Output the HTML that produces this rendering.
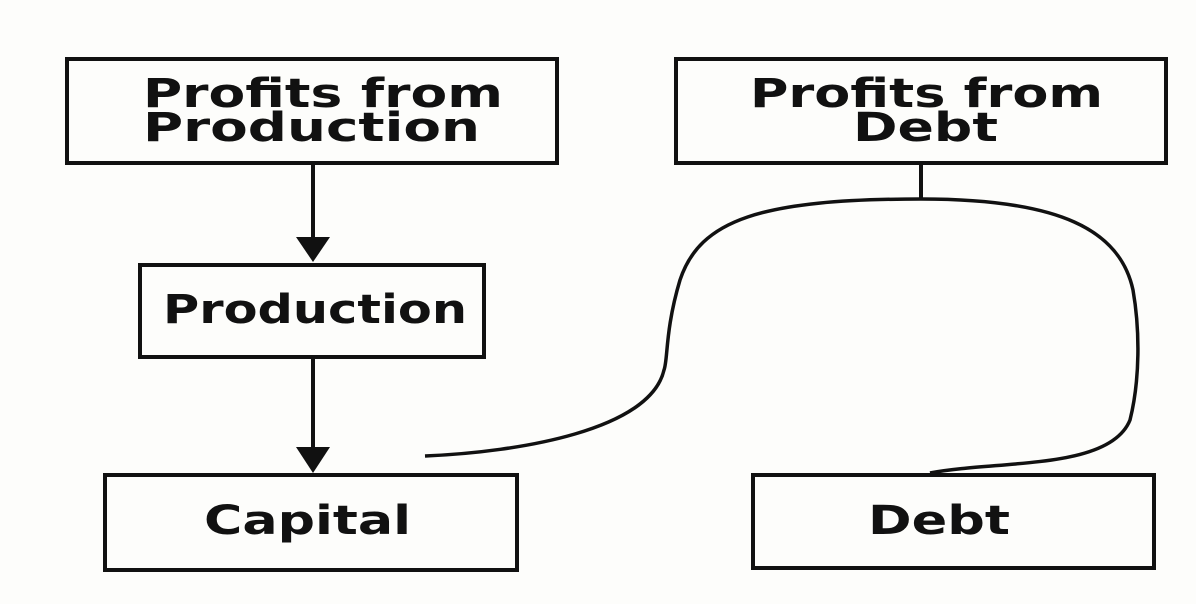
<!DOCTYPE html>
<html><head><style>
body{margin:0;background:#fdfdfb;}
svg{display:block}
text{font-family:"DejaVu Sans","Liberation Sans",sans-serif;font-weight:bold;fill:#111}
</style></head><body>
<svg width="1196" height="604" viewBox="0 0 1196 604">
<rect width="1196" height="604" fill="#fdfdfb"/>
<g fill="none" stroke="#111" stroke-width="4">
<rect x="67" y="59" width="490" height="104"/>
<rect x="676" y="59" width="490" height="104"/>
<rect x="140" y="265" width="344" height="92"/>
<rect x="105" y="475" width="412" height="95"/>
<rect x="753" y="475" width="401" height="93"/>
<line x1="313" y1="163" x2="313" y2="245"/>
<line x1="313" y1="357" x2="313" y2="455"/>
<line x1="921" y1="163" x2="921" y2="199"/>
<path d="M921 199 C760 199 700 220 680 280 C665 330 668 360 664 370 C650 430 520 452 425 456" stroke-width="3.5"/>
<path d="M921 199 C1060 199 1120 230 1133 290 C1140 330 1140 380 1130 420 C1110 470 1000 460 930 473" stroke-width="3.5"/>
</g>
<polygon points="296,237 330,237 313,262" fill="#111"/>
<polygon points="296,447 330,447 313,473" fill="#111"/>
<g font-size="40">
<text x="143" y="107" textLength="360" lengthAdjust="spacingAndGlyphs">Profits from</text>
<text x="143" y="141" textLength="337" lengthAdjust="spacingAndGlyphs">Production</text>
<text x="750" y="107" textLength="353" lengthAdjust="spacingAndGlyphs">Profits from</text>
<text x="853" y="141" textLength="145" lengthAdjust="spacingAndGlyphs">Debt</text>
<text x="163" y="323" textLength="304" lengthAdjust="spacingAndGlyphs">Production</text>
<text x="204" y="534" textLength="207" lengthAdjust="spacingAndGlyphs">Capital</text>
<text x="868" y="534" textLength="142" lengthAdjust="spacingAndGlyphs">Debt</text>
</g>
</svg>
</body></html>
